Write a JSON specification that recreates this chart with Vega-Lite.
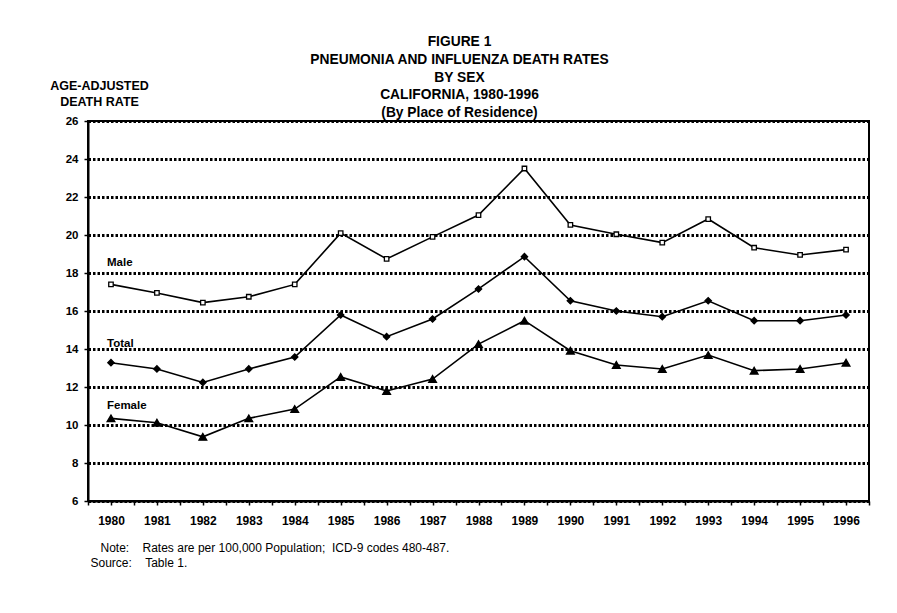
{
  "$schema": "https://vega.github.io/schema/vega-lite/v6.json",
  "width": 781,
  "height": 380,
  "autosize": {"type": "none"},
  "padding": {"left": 88, "top": 121, "right": 28, "bottom": 112},
  "background": "white",
  "config": {
    "font": "Liberation Sans",
    "view": {"stroke": "black", "strokeWidth": 2},
    "axis": {"domainColor": "black", "tickColor": "black", "labelColor": "black", "titleColor": "black"}
  },
  "title": {
    "text": ["FIGURE 1", "PNEUMONIA AND INFLUENZA DEATH RATES", "BY SEX", "CALIFORNIA, 1980-1996", "(By Place of Residence)"],
    "font": "Liberation Sans",
    "fontSize": 13.8,
    "fontWeight": "bold",
    "lineHeight": 17.8,
    "anchor": "middle",
    "frame": "group",
    "dx": -19,
    "offset": -41,
    "color": "black"
  },
  "data": {
    "values": [
      {"year": 1980, "series": "Male", "rate": 17.4},
      {"year": 1981, "series": "Male", "rate": 16.95},
      {"year": 1982, "series": "Male", "rate": 16.44},
      {"year": 1983, "series": "Male", "rate": 16.75},
      {"year": 1984, "series": "Male", "rate": 17.4},
      {"year": 1985, "series": "Male", "rate": 20.1},
      {"year": 1986, "series": "Male", "rate": 18.74},
      {"year": 1987, "series": "Male", "rate": 19.9},
      {"year": 1988, "series": "Male", "rate": 21.05},
      {"year": 1989, "series": "Male", "rate": 23.5},
      {"year": 1990, "series": "Male", "rate": 20.53},
      {"year": 1991, "series": "Male", "rate": 20.04},
      {"year": 1992, "series": "Male", "rate": 19.6},
      {"year": 1993, "series": "Male", "rate": 20.84},
      {"year": 1994, "series": "Male", "rate": 19.33},
      {"year": 1995, "series": "Male", "rate": 18.95},
      {"year": 1996, "series": "Male", "rate": 19.23},
      {"year": 1980, "series": "Total", "rate": 13.28},
      {"year": 1981, "series": "Total", "rate": 12.95},
      {"year": 1982, "series": "Total", "rate": 12.24},
      {"year": 1983, "series": "Total", "rate": 12.95},
      {"year": 1984, "series": "Total", "rate": 13.58},
      {"year": 1985, "series": "Total", "rate": 15.79},
      {"year": 1986, "series": "Total", "rate": 14.65},
      {"year": 1987, "series": "Total", "rate": 15.58},
      {"year": 1988, "series": "Total", "rate": 17.16},
      {"year": 1989, "series": "Total", "rate": 18.86},
      {"year": 1990, "series": "Total", "rate": 16.54},
      {"year": 1991, "series": "Total", "rate": 16.0},
      {"year": 1992, "series": "Total", "rate": 15.7},
      {"year": 1993, "series": "Total", "rate": 16.54},
      {"year": 1994, "series": "Total", "rate": 15.49},
      {"year": 1995, "series": "Total", "rate": 15.49},
      {"year": 1996, "series": "Total", "rate": 15.79},
      {"year": 1980, "series": "Female", "rate": 10.35},
      {"year": 1981, "series": "Female", "rate": 10.12},
      {"year": 1982, "series": "Female", "rate": 9.38},
      {"year": 1983, "series": "Female", "rate": 10.35},
      {"year": 1984, "series": "Female", "rate": 10.84},
      {"year": 1985, "series": "Female", "rate": 12.53},
      {"year": 1986, "series": "Female", "rate": 11.79},
      {"year": 1987, "series": "Female", "rate": 12.42},
      {"year": 1988, "series": "Female", "rate": 14.26},
      {"year": 1989, "series": "Female", "rate": 15.49},
      {"year": 1990, "series": "Female", "rate": 13.91},
      {"year": 1991, "series": "Female", "rate": 13.16},
      {"year": 1992, "series": "Female", "rate": 12.95},
      {"year": 1993, "series": "Female", "rate": 13.68},
      {"year": 1994, "series": "Female", "rate": 12.86},
      {"year": 1995, "series": "Female", "rate": 12.95},
      {"year": 1996, "series": "Female", "rate": 13.28}
    ]
  },
  "encoding": {
    "x": {
      "field": "year",
      "type": "quantitative",
      "scale": {"domain": [1979.5, 1996.5], "nice": false, "zero": false},
      "axis": {
        "values": [1979.5, 1980, 1980.5, 1981, 1981.5, 1982, 1982.5, 1983, 1983.5, 1984, 1984.5, 1985, 1985.5, 1986, 1986.5, 1987, 1987.5, 1988, 1988.5, 1989, 1989.5, 1990, 1990.5, 1991, 1991.5, 1992, 1992.5, 1993, 1993.5, 1994, 1994.5, 1995, 1995.5, 1996, 1996.5],
        "labelExpr": "datum.value % 1 == 0 ? format(datum.value, 'd') : ''",
        "labelFont": "Liberation Sans",
        "labelFontSize": 12,
        "labelFontWeight": "bold",
        "labelPadding": 10,
        "labelFlush": false,
        "labelOverlap": false,
        "tickSize": 4,
        "tickWidth": 1.5,
        "domainWidth": 2,
        "grid": false,
        "title": ["\u200b\u00a0\u00a0\u00a0Note:\u00a0\u00a0\u00a0\u00a0Rates are per 100,000 Population;\u00a0\u00a0ICD-9 codes 480-487.", "Source:\u00a0\u00a0\u00a0\u00a0Table 1."],
        "titleFont": "Liberation Sans",
        "titleFontSize": 12,
        "titleFontWeight": "normal",
        "titleAnchor": "start",
        "titleAlign": "left",
        "titleBaseline": "top",
        "titleX": 2,
        "titleY": 41,
        "titleLineHeight": 15
      }
    },
    "y": {
      "field": "rate",
      "type": "quantitative",
      "scale": {"domain": [6, 26], "nice": false, "zero": false},
      "axis": {
        "values": [6, 8, 10, 12, 14, 16, 18, 20, 22, 24, 26],
        "labelFont": "Liberation Sans",
        "labelFontSize": 11.5,
        "labelFontWeight": "bold",
        "labelPadding": 6,
        "tickSize": 4,
        "tickWidth": 1.5,
        "domainWidth": 2,
        "grid": true,
        "gridColor": "black",
        "gridWidth": 3,
        "gridDash": [2.5, 2],
        "gridOpacity": 1,
        "title": ["AGE-ADJUSTED", "DEATH RATE"],
        "titleFont": "Liberation Sans",
        "titleFontSize": 12.5,
        "titleFontWeight": "bold",
        "titleAngle": 0,
        "titleAlign": "center",
        "titleBaseline": "alphabetic",
        "titleX": 11,
        "titleY": -32,
        "titleLineHeight": 16
      }
    }
  },
  "layer": [
    {
      "mark": {"type": "line", "color": "black", "strokeWidth": 1.6},
      "encoding": {"detail": {"field": "series"}}
    },
    {
      "mark": {"type": "point", "opacity": 1, "stroke": "black", "strokeWidth": 1.3},
      "encoding": {
        "shape": {"field": "series", "type": "nominal", "scale": {"domain": ["Male", "Total", "Female"], "range": ["square", "diamond", "triangle-up"]}, "legend": null},
        "fill": {"field": "series", "type": "nominal", "scale": {"domain": ["Male", "Total", "Female"], "range": ["white", "black", "black"]}, "legend": null},
        "size": {"field": "series", "type": "nominal", "scale": {"domain": ["Male", "Total", "Female"], "range": [20, 60, 55]}, "legend": null}
      }
    },
    {
      "transform": [{"filter": "datum.year == 1980 && datum.series == 'Male'"}],
      "mark": {"type": "text", "align": "left", "baseline": "alphabetic", "dx": -4, "dy": -18, "font": "Liberation Sans", "fontSize": 11.5, "fontWeight": "bold", "color": "black"},
      "encoding": {"text": {"field": "series"}}
    },
    {
      "transform": [{"filter": "datum.year == 1980 && datum.series == 'Total'"}],
      "mark": {"type": "text", "align": "left", "baseline": "alphabetic", "dx": -4, "dy": -16, "font": "Liberation Sans", "fontSize": 11.5, "fontWeight": "bold", "color": "black"},
      "encoding": {"text": {"field": "series"}}
    },
    {
      "transform": [{"filter": "datum.year == 1980 && datum.series == 'Female'"}],
      "mark": {"type": "text", "align": "left", "baseline": "alphabetic", "dx": -4, "dy": -9, "font": "Liberation Sans", "fontSize": 11.5, "fontWeight": "bold", "color": "black"},
      "encoding": {"text": {"field": "series"}}
    }
  ]
}
